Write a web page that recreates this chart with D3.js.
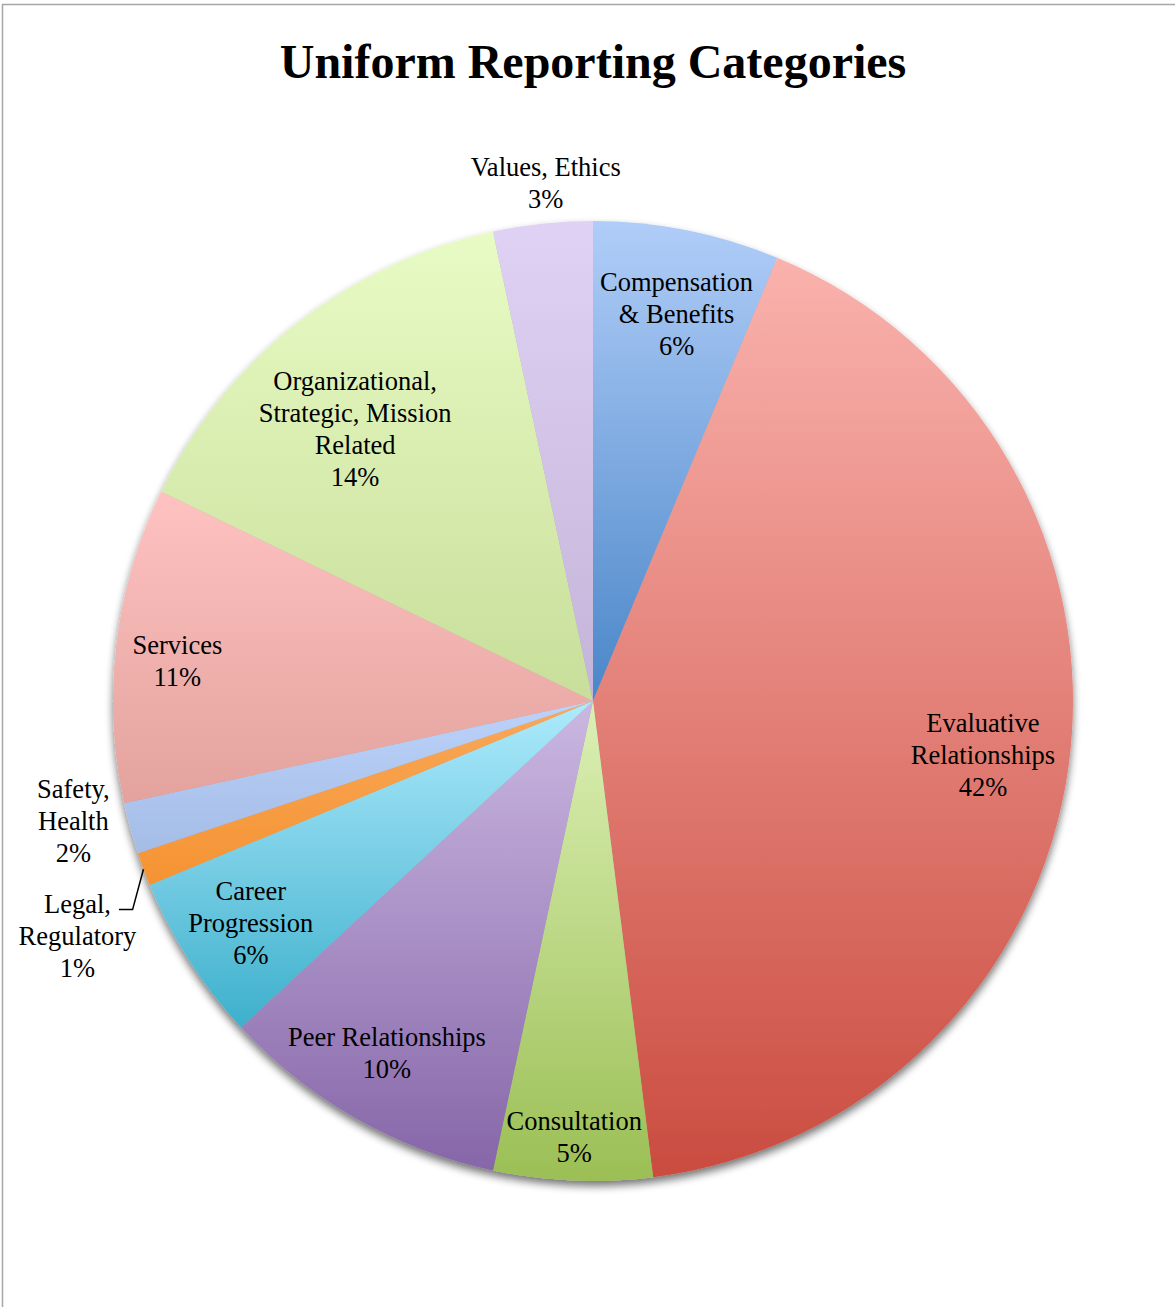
<!DOCTYPE html>
<html>
<head>
<meta charset="utf-8">
<script src="https://cdn.jsdelivr.net/npm/d3@7"></script>
<style>
  html, body { margin: 0; padding: 0; background: #fff; }
  svg { display: block; }
</style>
</head>
<body>
<div id="chart"></div>
<script>
// Share of reports (percent) per uniform reporting category, clockwise from 12 o'clock
const categories = [
  "Compensation & Benefits",
  "Evaluative Relationships",
  "Consultation",
  "Peer Relationships",
  "Career Progression",
  "Legal, Regulatory",
  "Safety, Health",
  "Services",
  "Organizational, Strategic, Mission Related",
  "Values, Ethics"
];
const shares = [6.27, 41.73, 5.34, 9.76, 5.64, 1.12, 1.72, 10.61, 14.47, 3.34];

// How each category name breaks across lines in its label
const labelLines = [
  ["Compensation", "& Benefits"],
  ["Evaluative", "Relationships"],
  ["Consultation"],
  ["Peer Relationships"],
  ["Career", "Progression"],
  ["Legal,", "Regulatory"],
  ["Safety,", "Health"],
  ["Services"],
  ["Organizational,", "Strategic, Mission", "Related"],
  ["Values, Ethics"]
];

// Slice fills: light at the top of each slice, deeper at the bottom
const palette = [
  ["#b0cdf8", "#4a86c8"],
  ["#fab2ad", "#ca4c40"],
  ["#dcf0b5", "#9bbf55"],
  ["#cbb8e2", "#8666a8"],
  ["#aeeafc", "#3eb0cc"],
  ["#f9a85a", "#f59332"],
  ["#bcd2fa", "#a4bde6"],
  ["#fec2c1", "#e3a29d"],
  ["#e8fbc5", "#c8de9a"],
  ["#dfd2f4", "#c4b4d9"]
];

// Label placement: radius as a fraction of the pie radius, angle nudge in degrees
const labelPlace = [
  { r: 0.8245, da: 0.9 },
  { r: 0.82, da: 0.15 },
  { r: 0.91, da: 0.05 },
  { r: 0.85, da: 0.75 },
  { r: 0.85, da: -0.3 },
  { r: 1.18, da: -3.95, leader: true },
  { r: 1.111, da: 2.43 },
  { r: 0.87, da: -1.25 },
  { r: 0.7533, da: -3.07 },
  { r: 1.084, da: 0.8 }
];

const W = 1175, H = 1307;
const cx = 593, cy = 701, R = 480;
const fontFamily = "'Liberation Serif', 'Times New Roman', Times, serif";
const labelSize = 26.5, lineH = 32;

const svg = d3.select("#chart").append("svg")
  .attr("width", W).attr("height", H)
  .attr("viewBox", `0 0 ${W} ${H}`);

const defs = svg.append("defs");

palette.forEach((c, i) => {
  const g = defs.append("linearGradient")
    .attr("id", "fill" + i)
    .attr("x1", 0).attr("y1", 0).attr("x2", 0).attr("y2", 1);
  g.append("stop").attr("offset", "0%").attr("stop-color", c[0]);
  g.append("stop").attr("offset", "100%").attr("stop-color", c[1]);
});

const shadow = defs.append("filter").attr("id", "pieShadow")
  .attr("x", "-10%").attr("y", "-10%").attr("width", "120%").attr("height", "125%");
shadow.append("feGaussianBlur").attr("in", "SourceAlpha").attr("stdDeviation", 4).attr("result", "blur");
shadow.append("feOffset").attr("in", "blur").attr("dx", 0).attr("dy", 5).attr("result", "off");
shadow.append("feComponentTransfer").attr("in", "off").attr("result", "soft")
  .append("feFuncA").attr("type", "linear").attr("slope", 0.55);
const merge = shadow.append("feMerge");
merge.append("feMergeNode").attr("in", "soft");
merge.append("feMergeNode").attr("in", "SourceGraphic");

// Chart frame
svg.append("path")
  .attr("d", `M2.5,${H} V4.5 H${W}`)
  .attr("fill", "none")
  .attr("stroke", "#a6a6a6")
  .attr("stroke-width", 1.5);

// Title
svg.append("text")
  .attr("x", cx).attr("y", 78)
  .attr("text-anchor", "middle")
  .attr("font-family", fontFamily)
  .attr("font-weight", "bold")
  .attr("font-size", 48)
  .attr("fill", "#000")
  .text("Uniform Reporting Categories");

const data = categories.map((name, i) => ({ name, value: shares[i], i }));
const total = d3.sum(shares);

const pie = d3.pie().value(d => d.value).sort(null);
const arcs = pie(data);
const arc = d3.arc().innerRadius(0).outerRadius(R);

const plot = svg.append("g").attr("transform", `translate(${cx},${cy})`);

plot.append("g")
  .attr("filter", "url(#pieShadow)")
  .selectAll("path")
  .data(arcs)
  .join("path")
  .attr("d", arc)
  .attr("fill", d => `url(#fill${d.data.i})`);

const polar = (r, a) => [r * Math.sin(a), -r * Math.cos(a)];
const pct = d3.format(".0%");

arcs.forEach(d => {
  const p = labelPlace[d.data.i];
  const mid = (d.startAngle + d.endAngle) / 2;
  const a = mid + p.da * Math.PI / 180;
  const [lx, ly] = polar(p.r * R, a);
  const lines = labelLines[d.data.i].concat([pct(d.data.value / total)]);
  const n = lines.length;

  const t = plot.append("text")
    .attr("text-anchor", "middle")
    .attr("font-family", fontFamily)
    .attr("font-size", labelSize)
    .attr("fill", "#000");
  lines.forEach((s, k) => {
    t.append("tspan")
      .attr("x", lx)
      .attr("y", ly + (k - (n - 1) / 2) * lineH + 9)
      .text(s);
  });

  if (p.leader) {
    // Leader from the label's first line to the slice's outer edge
    const edge = polar(R, mid);
    const bend = polar(R * 1.053, a + 0.1 * Math.PI / 180);
    const y0 = ly - (n - 1) / 2 * lineH;
    const w0 = t.select("tspan").node().getComputedTextLength();
    const xStart = lx + w0 / 2 + 8;
    plot.append("path")
      .attr("d", `M${xStart},${y0 + 6} H${bend[0]} L${edge[0]},${edge[1]}`)
      .attr("fill", "none")
      .attr("stroke", "#000")
      .attr("stroke-width", 1.5);
  }
});
</script>
</body>
</html>
